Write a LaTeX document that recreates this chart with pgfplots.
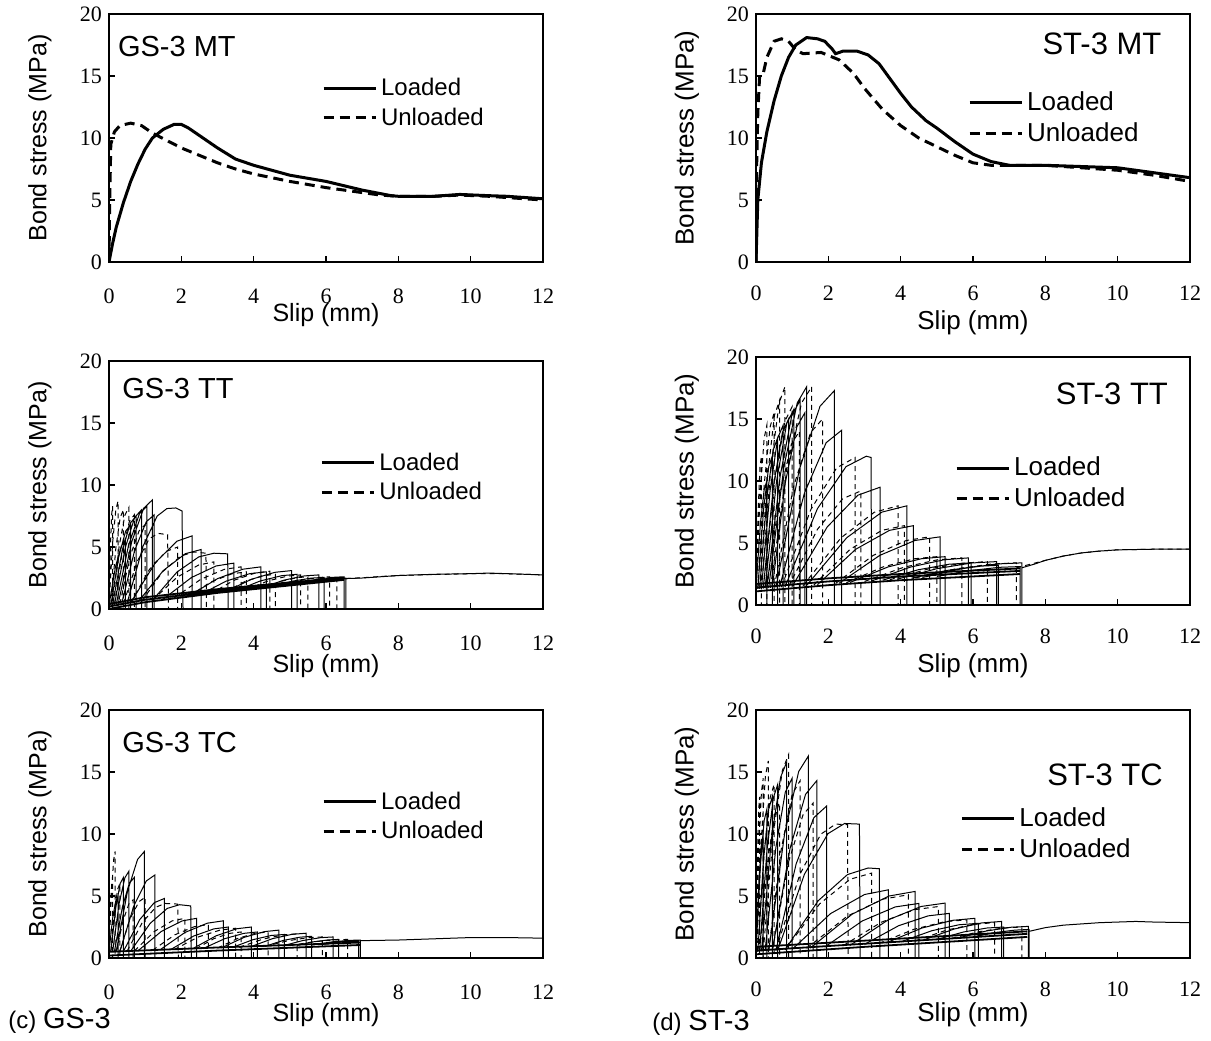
\documentclass[border=0pt]{standalone}
\usepackage{fontspec}
\setmainfont{Liberation Sans}
\newfontfamily\timesfont{Liberation Serif}
\usepackage{pgfplots}
\pgfplotsset{compat=1.18}

\tikzset{
  thinL/.style={black, line width=0.5pt},
  thinU/.style={black, line width=0.5pt, dash pattern=on 2.5pt off 2pt},
  thickL/.style={black, line width=1.5pt},
  thickU/.style={black, line width=1.5pt, dash pattern=on 5pt off 3pt},
  ptitle/.style={font=\fontsize{14.5}{16}\selectfont, inner sep=0pt},
  ptitleR/.style={font=\fontsize{15.5}{17}\selectfont, inner sep=0pt},
}
\pgfplotsset{
  panel/.style={
    width=217pt, height=124pt, scale only axis, anchor=south west,
    xmin=0, xmax=12, ymin=0, ymax=20,
    xtick={0,2,...,12}, ytick={0,5,...,20},
    tick align=inside, xtick pos=left, ytick pos=left,
    major tick length=3pt,
    axis line style={line width=1pt},
    tick style={line width=0.8pt, black},
    /pgf/number format/assume math mode=true,
    tick label style={font=\timesfont\fontsize{11}{13}\selectfont},
    xticklabel style={yshift=-10pt},
    xlabel={Slip (mm)}, ylabel={Bond stress (MPa)},
    label style={font=\fontsize{12.5}{14}\selectfont},
    xlabel style={at={(axis description cs:0.5,-0.23)}, anchor=center},
    ylabel style={at={(axis description cs:-0.159,0.5)}, anchor=center},
    unbounded coords=jump,
    legend style={draw=none, fill=none, font=\fontsize{12}{14}\selectfont,
      inner sep=0pt, row sep=0.5pt, cells={anchor=west}},
    legend image code/.code={\draw[##1] (0pt,0pt) -- (26pt,0pt);},
  },
  rpanel/.style={panel,
    xticklabel style={yshift=1.5pt},
    label style={font=\fontsize{13}{15}\selectfont},
    xlabel style={at={(axis description cs:0.5,-0.245)}},
    legend style={font=\fontsize{13}{15}\selectfont},
  },
}

\begin{document}
\begin{tikzpicture}
\path[use as bounding box] (0,0) rectangle (605.5pt,-520pt);

% GS-3 MT
\begin{axis}[panel, at={(54.5pt,-131pt)},
  xlabel style={at={(axis description cs:0.5,-0.215)}},
  legend style={at={(0.49,0.64)}, anchor=west}]
\addlegendimage{thickL}\addlegendentry{Loaded}
\addlegendimage{thickU}\addlegendentry{Unloaded}
\addplot[thickL] coordinates {
 (0,0) (0.1,1.5) (0.2,2.8) (0.4,4.8) (0.6,6.5) (0.8,7.9) (1.0,9.1) (1.2,10.0)
 (1.5,10.7) (1.8,11.1) (2.0,11.1) (2.2,10.8) (2.6,10.0) (3.0,9.2) (3.5,8.3)
 (4.0,7.8) (5.0,7.0) (6.0,6.5) (7.0,5.8) (7.8,5.35) (8.0,5.3) (9.0,5.3)
 (9.7,5.45) (10.5,5.35) (11.0,5.3) (12.0,5.1)};
\addplot[thickU] coordinates {
 (0,0) (0.02,5) (0.05,9.5) (0.15,10.5) (0.3,11.0) (0.6,11.2) (0.9,11.0)
 (1.2,10.4) (1.6,9.8) (2.0,9.2) (2.5,8.6) (3.0,8.0) (3.5,7.5) (4.0,7.1)
 (5.0,6.5) (6.0,6.0) (7.0,5.6) (7.5,5.4) (8.0,5.3) (9.0,5.3) (9.7,5.4)
 (10.5,5.3) (11.0,5.2) (12.0,5.0)};
\node[ptitle, anchor=west] at (rel axis cs:0.02,0.867) {GS-3 MT};
\end{axis}

% ST-3 MT
\begin{axis}[rpanel, at={(378pt,-131pt)},
  legend style={at={(0.488,0.58)}, anchor=west}]
\addlegendimage{thickL}\addlegendentry{Loaded}
\addlegendimage{thickU}\addlegendentry{Unloaded}
\addplot[thickL] coordinates {
 (0,0) (0.05,5) (0.15,8) (0.3,10.5) (0.5,13) (0.7,15) (0.9,16.5) (1.1,17.5)
 (1.4,18.1) (1.7,18.0) (1.9,17.8) (2.1,17.2) (2.2,16.8) (2.4,17.0) (2.8,17.0)
 (3.1,16.7) (3.4,16.0) (3.7,14.8) (4.0,13.6) (4.3,12.5) (4.7,11.4) (5.0,10.8)
 (5.5,9.7) (6.0,8.7) (6.5,8.1) (7.0,7.8) (8,7.8) (9,7.7) (10,7.6) (10.5,7.4)
 (11,7.2) (12,6.8)};
\addplot[thickU] coordinates {
 (0,0) (0.02,8) (0.05,12) (0.1,15) (0.2,15.2) (0.3,16.5) (0.5,17.8) (0.7,18.0)
 (0.9,17.8) (1.1,17.1) (1.3,16.8) (1.8,16.9) (2.3,16.3) (2.7,15.2) (3.0,14.0)
 (3.5,12.3) (4.0,11.0) (4.5,10.0) (5.0,9.3) (5.5,8.6) (6.0,8.0) (6.5,7.8)
 (7.0,7.8) (8,7.8) (9,7.6) (10,7.4) (11,7.0) (12,6.5)};
\node[ptitleR, anchor=east] at (rel axis cs:0.935,0.88) {ST-3 MT};
\end{axis}

% GS-3 TT
\begin{axis}[panel, at={(54.5pt,-304.5pt)},
  legend style={at={(0.486,0.53)}, anchor=west}]
\addlegendimage{thickL}\addlegendentry{Loaded}
\addlegendimage{thickU}\addlegendentry{Unloaded}
\addplot[thinL] coordinates {
 (0,0.3) (0.18,3.42) (0.34,5.08) (0.45,5.5) (0.45,-1) (0,nan)
 (0.05,0.32) (0.27,4.21) (0.46,6.28) (0.6,6.8) (0.6,-1) (0,nan)
 (0.1,0.33) (0.36,4.63) (0.59,6.93) (0.75,7.5) (0.75,-1) (0,nan)
 (0.15,0.35) (0.45,4.94) (0.71,7.39) (0.9,8.0) (0.9,-1) (0,nan)
 (0.2,0.37) (0.54,5.13) (0.84,7.67) (1.05,8.3) (1.05,-1) (0,nan)
 (0.25,0.38) (0.63,5.43) (0.96,8.13) (1.2,8.8) (1.2,-1) (0,nan)
 (0.35,0.42) (0.71,4.73) (1.03,7.03) (1.25,7.6) (1.25,-1) (0,nan)
 (0.5,0.47) (0.94,5.05) (1.33,7.49) (1.6,8.1) (1.85,8.15) (2.02,7.9) (2.05,-1) (0,nan)
 (0.6,0.5) (1.28,3.74) (1.88,5.47) (2.3,5.9) (2.3,-1) (0,nan)
 (0.8,0.56) (1.5,3.1) (2.11,4.46) (2.55,4.8) (2.55,-1) (0,nan)
 (1.2,0.7) (1.88,2.98) (2.48,4.2) (2.9,4.5) (3.28,4.45) (3.3,-1) (0,nan)
 (1.5,0.8) (2.28,2.54) (2.96,3.47) (3.45,3.7) (3.45,-1) (0,nan)
 (2.2,1.03) (3.0,2.45) (3.7,3.21) (4.2,3.4) (4.2,-1) (0,nan)
 (2.5,1.13) (3.24,2.25) (3.89,2.85) (4.35,3.0) (4.35,-1) (0,nan)
 (3.2,1.36) (3.94,2.4) (4.59,2.96) (5.05,3.1) (5.05,-1) (0,nan)
 (3.5,1.46) (4.18,2.26) (4.78,2.69) (5.2,2.8) (5.2,-1) (0,nan)
 (4.2,1.69) (4.84,2.33) (5.4,2.67) (5.8,2.75) (5.8,-1) (0,nan)
 (4.5,1.79) (5.08,2.25) (5.59,2.49) (5.95,2.55) (5.95,-1) (0,nan)
 (5.1,1.98) (5.66,2.35) (6.15,2.55) (6.5,2.6) (6.5,-1) (0,nan)
 (5.4,2.08) (5.86,2.33) (6.26,2.47) (6.55,2.5) (6.55,-1) (0,nan)
 (6.5,2.45) (7,2.5) (7.5,2.6) (8,2.7) (9,2.8) (10,2.85) (10.5,2.9) (11,2.85) (11.5,2.8) (12,2.75)};
\addplot[thinL, line width=0.9pt] coordinates {
 (0,0.2) (1,0.75) (3,1.45) (5,2.05) (6.5,2.45) (0,nan)
 (0,0.4) (1,0.95) (3,1.6) (5,2.15) (6.5,2.5) (0,nan)
 (0,0) (1,0.55) (3,1.3) (5,1.9) (6.5,2.35)};
\addplot[thinU] coordinates {
 (0,0.3) (0.04,5.1) (0.075,7.66) (0.1,8.3) (0.1,-1) (0,nan)
 (0,0.3) (0.1,5.34) (0.19,8.03) (0.25,8.7) (0.25,-1) (0,nan)
 (0.05,0.32) (0.19,4.93) (0.31,7.39) (0.4,8.0) (0.4,-1) (0,nan)
 (0.1,0.33) (0.28,5.05) (0.44,7.57) (0.55,8.2) (0.55,-1) (0,nan)
 (0.15,0.35) (0.37,4.7) (0.56,7.02) (0.7,7.6) (0.7,-1) (0,nan)
 (0.3,0.4) (0.58,4.24) (0.83,6.29) (1.0,6.8) (1.0,-1) (0,nan)
 (0.4,0.43) (0.78,3.83) (1.11,5.65) (1.35,6.1) (1.62,6.0) (1.65,-1) (0,nan)
 (0.6,0.5) (1.12,3.2) (1.58,4.64) (1.9,5.0) (1.9,-1) (0,nan)
 (0.9,0.6) (1.48,3.0) (1.99,4.28) (2.35,4.6) (2.68,4.5) (2.7,-1) (0,nan)
 (1.2,0.7) (1.88,2.56) (2.48,3.55) (2.9,3.8) (2.9,-1) (0,nan)
 (1.8,0.89) (2.54,2.4) (3.19,3.2) (3.65,3.4) (3.65,-1) (0,nan)
 (2.2,1.03) (2.84,2.21) (3.4,2.84) (3.8,3.0) (3.8,-1) (0,nan)
 (2.8,1.22) (3.46,2.32) (4.04,2.9) (4.45,3.05) (4.45,-1) (0,nan)
 (3.2,1.36) (3.76,2.22) (4.25,2.68) (4.6,2.8) (4.6,-1) (0,nan)
 (3.8,1.55) (4.4,2.27) (4.93,2.65) (5.3,2.75) (5.3,-1) (0,nan)
 (4.3,1.72) (4.78,2.25) (5.2,2.53) (5.5,2.6) (5.5,-1) (0,nan)
 (4.8,1.88) (5.32,2.31) (5.78,2.54) (6.1,2.6) (6.1,-1) (0,nan)
 (5.3,2.05) (5.7,2.32) (6.05,2.46) (6.3,2.5) (6.3,-1) (0,nan)
 (6.3,2.42) (7,2.52) (7.5,2.62) (8,2.7) (9,2.78) (10,2.85) (11,2.85) (12,2.75)};
\node[ptitle, anchor=west] at (rel axis cs:0.03,0.89) {GS-3 TT};
\end{axis}

% ST-3 TT
\begin{axis}[rpanel, at={(378pt,-302.5pt)},
  legend style={at={(0.458,0.49)}, anchor=west}]
\addlegendimage{thickL}\addlegendentry{Loaded}
\addlegendimage{thickU}\addlegendentry{Unloaded}
\addplot[thinL] coordinates {
 (0,1.3) (0.12,6.52) (0.225,9.3) (0.3,10.0) (0.3,-1) (0,nan)
 (0.05,1.31) (0.21,7.72) (0.35,11.14) (0.45,12.0) (0.45,-1) (0,nan)
 (0.1,1.32) (0.3,8.63) (0.48,12.53) (0.6,13.5) (0.6,-1) (0,nan)
 (0.15,1.33) (0.39,9.23) (0.6,13.45) (0.75,14.5) (0.75,-1) (0,nan)
 (0.2,1.34) (0.48,9.54) (0.73,13.91) (0.9,15.0) (0.9,-1) (0,nan)
 (0.25,1.35) (0.57,10.02) (0.85,14.64) (1.05,15.8) (1.05,-1) (0,nan)
 (0.3,1.36) (0.67,10.44) (0.99,15.29) (1.22,16.5) (1.22,-1) (0,nan)
 (0.35,1.37) (0.77,11.11) (1.14,16.3) (1.4,17.6) (1.4,-1) (0,nan)
 (0.45,1.39) (0.81,9.86) (1.13,14.37) (1.35,15.5) (1.35,-1) (0,nan)
 (0.55,1.41) (1.2,10.94) (1.77,16.03) (2.17,17.3) (2.17,-1) (0,nan)
 (0.65,1.43) (1.34,9.03) (1.94,13.09) (2.37,14.1) (2.37,-1) (0,nan)
 (0.8,1.46) (1.7,7.78) (2.49,11.16) (3.05,12.0) (3.18,11.9) (3.2,-1) (0,nan)
 (1.0,1.5) (1.97,6.3) (2.82,8.86) (3.43,9.5) (3.43,-1) (0,nan)
 (1.4,1.58) (2.51,5.43) (3.48,7.49) (4.17,8.0) (4.17,-1) (0,nan)
 (1.7,1.64) (2.76,4.5) (3.69,6.02) (4.35,6.4) (4.35,-1) (0,nan)
 (2.3,1.76) (3.42,4.0) (4.39,5.2) (5.09,5.5) (5.09,-1) (0,nan)
 (2.6,1.82) (3.65,3.07) (4.57,3.73) (5.23,3.9) (5.23,-1) (0,nan)
 (3.2,1.94) (4.27,3.06) (5.2,3.65) (5.87,3.8) (5.87,-1) (0,nan)
 (3.5,2.0) (4.48,2.84) (5.34,3.29) (5.95,3.4) (5.95,-1) (0,nan)
 (3.9,2.08) (5.0,2.93) (5.96,3.39) (6.65,3.5) (6.65,-1) (0,nan)
 (4.3,2.16) (5.26,2.78) (6.1,3.12) (6.7,3.2) (6.7,-1) (0,nan)
 (4.6,2.22) (5.7,2.93) (6.66,3.31) (7.35,3.4) (7.35,-1) (0,nan)
 (5.0,2.3) (5.92,2.78) (6.73,3.04) (7.3,3.1) (7.3,-1) (0,nan)
 (7.35,3.0) (7.7,3.3) (8,3.6) (8.5,3.95) (9,4.2) (9.5,4.35) (10,4.45) (11,4.5) (12,4.5)};
\addplot[thinL, line width=0.9pt] coordinates {
 (0,1.1) (2,1.6) (4,2.0) (7.3,2.5) (0,nan)
 (0,1.4) (2,1.9) (4,2.3) (7.3,2.75) (0,nan)
 (0,1.7) (2,2.15) (4,2.5) (7.3,2.95)};
\addplot[thinU] coordinates {
 (0,1.3) (0.06,7.72) (0.11,11.14) (0.15,12.0) (0.15,-1) (0,nan)
 (0,1.3) (0.12,9.22) (0.225,13.44) (0.3,14.5) (0.3,-1) (0,nan)
 (0.05,1.31) (0.23,9.82) (0.39,14.36) (0.5,15.5) (0.5,-1) (0,nan)
 (0.1,1.32) (0.32,10.43) (0.51,15.29) (0.65,16.5) (0.65,-1) (0,nan)
 (0.15,1.33) (0.41,11.09) (0.64,16.3) (0.8,17.6) (0.8,-1) (0,nan)
 (0.2,1.34) (0.52,10.14) (0.8,14.83) (1.0,16.0) (1.0,-1) (0,nan)
 (0.3,1.36) (0.66,8.94) (0.98,12.99) (1.2,14.0) (1.2,-1) (0,nan)
 (0.4,1.38) (0.86,11.11) (1.26,16.3) (1.54,17.6) (1.54,-1) (0,nan)
 (0.5,1.4) (1.04,9.56) (1.51,13.91) (1.84,15.0) (1.84,-1) (0,nan)
 (0.7,1.44) (1.52,7.72) (2.23,11.06) (2.74,11.9) (2.74,-1) (0,nan)
 (0.9,1.48) (1.7,6.11) (2.4,8.58) (2.9,9.2) (2.9,-1) (0,nan)
 (1.3,1.56) (2.35,5.42) (3.27,7.48) (3.93,8.0) (3.93,-1) (0,nan)
 (1.6,1.62) (2.6,4.49) (3.48,6.02) (4.1,6.4) (4.1,-1) (0,nan)
 (2.2,1.74) (3.24,4.0) (4.15,5.2) (4.8,5.5) (4.8,-1) (0,nan)
 (2.5,1.8) (3.5,3.06) (4.38,3.73) (5.0,3.9) (5.0,-1) (0,nan)
 (3.0,1.9) (4.08,3.04) (5.02,3.65) (5.69,3.8) (5.69,-1) (0,nan)
 (3.7,2.04) (4.78,2.92) (5.73,3.38) (6.4,3.5) (6.4,-1) (0,nan)
 (4.4,2.18) (5.52,2.91) (6.5,3.3) (7.2,3.4) (7.2,-1) (0,nan)
 (7.2,3.0) (7.6,3.3) (8,3.6) (8.5,3.95) (9,4.2) (9.5,4.35) (10,4.45) (11,4.5) (12,4.5)};
\node[ptitleR, anchor=east] at (rel axis cs:0.95,0.85) {ST-3 TT};
\end{axis}

% GS-3 TC
\begin{axis}[panel, at={(54.5pt,-479pt)},
  legend style={at={(0.49,0.57)}, anchor=west}]
\addlegendimage{thickL}\addlegendentry{Loaded}
\addlegendimage{thickU}\addlegendentry{Unloaded}
\addplot[thinL] coordinates {
 (0,0.5) (0.1,3.2) (0.19,4.64) (0.25,5.0) (0.25,-1) (0,nan)
 (0.05,0.51) (0.19,4.1) (0.31,6.02) (0.4,6.5) (0.4,-1) (0,nan)
 (0.1,0.51) (0.28,4.4) (0.44,6.48) (0.55,7.0) (0.55,-1) (0,nan)
 (0.15,0.52) (0.37,4.11) (0.56,6.02) (0.7,6.5) (0.7,-1) (0,nan)
 (0.2,0.52) (0.51,5.37) (0.79,7.95) (0.98,8.6) (0.98,-1) (0,nan)
 (0.3,0.53) (0.69,4.23) (1.03,6.21) (1.27,6.7) (1.27,-1) (0,nan)
 (0.4,0.54) (0.85,3.1) (1.25,4.46) (1.53,4.8) (1.53,-1) (0,nan)
 (0.6,0.56) (1.14,2.8) (1.61,4.0) (1.95,4.3) (2.26,4.2) (2.28,-1) (0,nan)
 (0.8,0.58) (1.45,2.15) (2.02,2.99) (2.42,3.2) (2.42,-1) (0,nan)
 (1.4,0.64) (2.1,2.06) (2.72,2.81) (3.16,3.0) (3.16,-1) (0,nan)
 (1.7,0.67) (2.34,1.77) (2.9,2.35) (3.3,2.5) (3.3,-1) (0,nan)
 (2.3,0.73) (2.96,1.79) (3.53,2.36) (3.94,2.5) (3.94,-1) (0,nan)
 (2.6,0.76) (3.2,1.56) (3.73,1.99) (4.1,2.1) (4.1,-1) (0,nan)
 (3.1,0.81) (3.74,1.67) (4.3,2.13) (4.7,2.25) (4.7,-1) (0,nan)
 (3.4,0.84) (3.98,1.48) (4.49,1.82) (4.85,1.9) (4.85,-1) (0,nan)
 (3.9,0.89) (4.52,1.56) (5.06,1.91) (5.45,2.0) (5.45,-1) (0,nan)
 (4.3,0.93) (4.82,1.42) (5.28,1.68) (5.6,1.75) (5.6,-1) (0,nan)
 (4.8,0.98) (5.36,1.41) (5.85,1.64) (6.2,1.7) (6.2,-1) (0,nan)
 (5.2,1.02) (5.66,1.31) (6.06,1.46) (6.35,1.5) (6.35,-1) (0,nan)
 (5.6,1.06) (6.14,1.29) (6.61,1.42) (6.95,1.45) (6.95,-1) (0,nan)
 (5.9,1.09) (6.3,1.25) (6.65,1.33) (6.9,1.35) (6.9,-1) (0,nan)
 (6.95,1.4) (8,1.45) (9,1.55) (10,1.65) (11,1.65) (12,1.6)};
\addplot[thinL, line width=0.9pt] coordinates {
 (0,0.2) (3,0.6) (6.95,1.05) (0,nan)
 (0,0.5) (3,0.85) (6.95,1.25)};
\addplot[thinU] coordinates {
 (0,0.5) (0.07,5.36) (0.13,7.95) (0.17,8.6) (0.17,-1) (0,nan)
 (0,0.5) (0.04,4.1) (0.075,6.0) (0.1,6.5) (0.1,-1) (0,nan)
 (0.05,0.51) (0.15,3.8) (0.24,5.56) (0.3,6.0) (0.3,-1) (0,nan)
 (0.2,0.52) (0.39,3.03) (0.55,4.37) (0.67,4.7) (0.67,-1) (0,nan)
 (0.3,0.53) (0.58,3.15) (0.83,4.55) (1.0,4.9) (1.0,-1) (0,nan)
 (0.5,0.55) (0.92,2.86) (1.29,4.09) (1.55,4.4) (1.9,4.35) (1.92,-1) (0,nan)
 (0.7,0.57) (1.26,2.15) (1.75,3.0) (2.1,3.2) (2.1,-1) (0,nan)
 (1.2,0.62) (1.82,1.87) (2.36,2.53) (2.75,2.7) (2.75,-1) (0,nan)
 (1.8,0.68) (2.48,1.71) (3.08,2.26) (3.5,2.4) (3.5,-1) (0,nan)
 (2.4,0.74) (2.9,1.56) (3.34,1.99) (3.65,2.1) (3.65,-1) (0,nan)
 (3.0,0.8) (3.56,1.58) (4.05,2.0) (4.4,2.1) (4.4,-1) (0,nan)
 (3.6,0.86) (4.24,1.51) (4.8,1.86) (5.2,1.95) (5.2,-1) (0,nan)
 (4.3,0.93) (4.94,1.39) (5.5,1.64) (5.9,1.7) (5.9,-1) (0,nan)
 (5.0,1.0) (5.64,1.3) (6.2,1.46) (6.6,1.5) (6.6,-1)};
\node[ptitle, anchor=west] at (rel axis cs:0.03,0.87) {GS-3 TC};
\end{axis}

% ST-3 TC
\begin{axis}[rpanel, at={(378pt,-479pt)},
  xlabel style={at={(axis description cs:0.5,-0.23)}},
  legend style={at={(0.47,0.50)}, anchor=west}]
\addlegendimage{thickL}\addlegendentry{Loaded}
\addlegendimage{thickU}\addlegendentry{Unloaded}
\addplot[thinL] coordinates {
 (0,0.5) (0.08,6.2) (0.15,9.24) (0.2,10.0) (0.2,-1) (0,nan)
 (0,0.5) (0.12,7.4) (0.225,11.08) (0.3,12.0) (0.3,-1) (0,nan)
 (0.05,0.51) (0.21,8.0) (0.35,12.0) (0.45,13.0) (0.45,-1) (0,nan)
 (0.1,0.52) (0.3,8.61) (0.48,12.92) (0.6,14.0) (0.6,-1) (0,nan)
 (0.15,0.53) (0.43,9.69) (0.68,14.58) (0.85,15.8) (0.85,-1) (0,nan)
 (0.25,0.55) (0.55,8.92) (0.81,13.38) (1.0,14.5) (1.0,-1) (0,nan)
 (0.35,0.57) (0.79,10.01) (1.18,15.04) (1.45,16.3) (1.45,-1) (0,nan)
 (0.45,0.59) (0.94,8.82) (1.37,13.2) (1.68,14.3) (1.68,-1) (0,nan)
 (0.55,0.61) (1.11,7.59) (1.6,11.32) (1.95,12.25) (1.95,-1) (0,nan)
 (0.6,0.62) (1.34,6.76) (1.99,10.03) (2.45,10.85) (2.86,10.8) (2.88,-1) (0,nan)
 (0.8,0.66) (1.72,4.62) (2.53,6.73) (3.1,7.26) (3.41,7.2) (3.43,-1) (0,nan)
 (1.0,0.7) (2.06,3.58) (3.0,5.12) (3.66,5.5) (3.66,-1) (0,nan)
 (1.5,0.8) (2.66,3.54) (3.68,5.0) (4.4,5.37) (4.4,-1) (0,nan)
 (1.9,0.88) (2.94,2.99) (3.85,4.12) (4.5,4.4) (4.5,-1) (0,nan)
 (2.6,1.02) (3.65,3.07) (4.57,4.16) (5.23,4.43) (5.23,-1) (0,nan)
 (3.0,1.1) (3.94,2.6) (4.76,3.4) (5.35,3.6) (5.35,-1) (0,nan)
 (3.6,1.22) (4.58,2.41) (5.44,3.04) (6.05,3.2) (6.05,-1) (0,nan)
 (4.0,1.3) (4.86,2.2) (5.61,2.68) (6.15,2.8) (6.15,-1) (0,nan)
 (4.6,1.42) (5.48,2.34) (6.24,2.83) (6.79,2.95) (6.79,-1) (0,nan)
 (5.0,1.5) (5.74,2.1) (6.39,2.42) (6.85,2.5) (6.85,-1) (0,nan)
 (5.6,1.62) (6.37,2.18) (7.05,2.48) (7.53,2.55) (7.53,-1) (0,nan)
 (6.0,1.7) (6.62,2.06) (7.16,2.25) (7.55,2.3) (7.55,-1) (0,nan)
 (7.55,2.15) (8,2.45) (8.5,2.65) (9,2.75) (9.5,2.85) (10,2.9) (10.5,2.95) (11,2.9) (12,2.85)};
\addplot[thinL, line width=0.9pt] coordinates {
 (0,0.3) (3,0.9) (7.5,1.7) (0,nan)
 (0,0.6) (3,1.15) (7.5,1.95) (0,nan)
 (0,0.9) (3,1.4) (7.5,2.15)};
\addplot[thinU] coordinates {
 (0,0.5) (0.04,8.0) (0.075,12.0) (0.1,13.0) (0.1,-1) (0,nan)
 (0,0.5) (0.08,8.9) (0.15,13.38) (0.2,14.5) (0.2,-1) (0,nan)
 (0.02,0.5) (0.15,9.74) (0.26,14.67) (0.34,15.9) (0.34,-1) (0,nan)
 (0.05,0.51) (0.23,8.6) (0.39,12.92) (0.5,14.0) (0.5,-1) (0,nan)
 (0.1,0.52) (0.32,7.71) (0.51,11.54) (0.65,12.5) (0.65,-1) (0,nan)
 (0.2,0.54) (0.48,10.06) (0.73,15.13) (0.9,16.4) (0.9,-1) (0,nan)
 (0.35,0.57) (0.7,8.81) (1.0,13.2) (1.22,14.3) (1.22,-1) (0,nan)
 (0.45,0.59) (0.9,7.74) (1.3,11.55) (1.58,12.5) (1.58,-1) (0,nan)
 (0.55,0.61) (1.21,6.72) (1.79,9.98) (2.2,10.8) (2.53,10.75) (2.55,-1) (0,nan)
 (0.8,0.66) (1.76,4.37) (2.6,6.35) (3.2,6.85) (3.2,-1) (0,nan)
 (1.4,0.78) (2.52,3.37) (3.51,4.75) (4.21,5.1) (4.21,-1) (0,nan)
 (2.4,0.98) (3.46,2.88) (4.38,3.9) (5.04,4.15) (5.04,-1) (0,nan)
 (3.4,1.18) (4.37,2.32) (5.22,2.93) (5.83,3.08) (5.83,-1) (0,nan)
 (4.4,1.38) (5.28,2.26) (6.05,2.73) (6.6,2.85) (6.6,-1) (0,nan)
 (5.4,1.58) (6.18,2.13) (6.86,2.43) (7.35,2.5) (7.35,-1)};
\node[ptitleR, anchor=east] at (rel axis cs:0.938,0.74) {ST-3 TC};
\end{axis}

\node[anchor=west, inner sep=0pt] at (4pt,-510.5pt)
  {\fontsize{12}{14}\selectfont(c)~\fontsize{14.5}{17}\selectfont GS-3};
\node[anchor=west, inner sep=0pt] at (326pt,-511.5pt)
  {\fontsize{12}{14}\selectfont(d)~\fontsize{14.5}{17}\selectfont ST-3};
\end{tikzpicture}
\end{document}
